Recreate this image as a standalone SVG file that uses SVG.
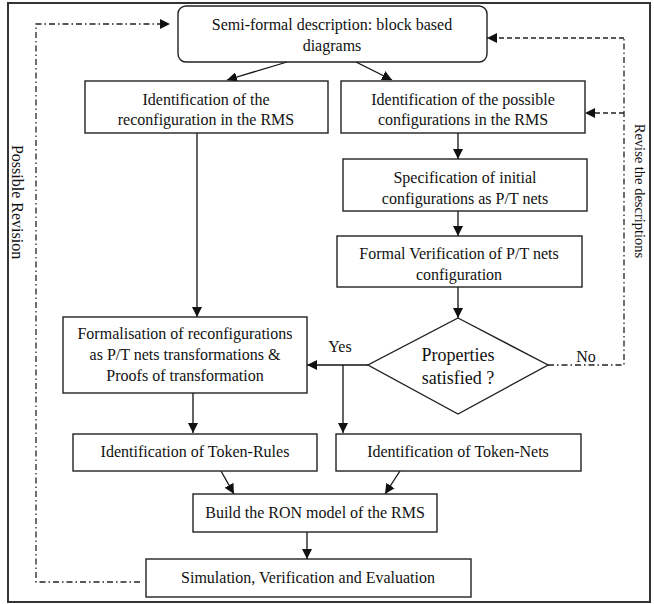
<svg xmlns="http://www.w3.org/2000/svg" width="654" height="604" viewBox="0 0 654 604">
<style>
  .box { fill: #fff; stroke: #222; stroke-width: 1.4; }
  .t { font-family: "Liberation Serif", "Times New Roman", serif; font-size: 16px; fill: #111; text-anchor: middle; }
  .big { font-size: 18px; }
  .side { font-size: 14.5px; }
  .ln { fill: none; stroke: #111; stroke-width: 1.3; }
  .dd { fill: none; stroke: #222; stroke-width: 1.3; stroke-dasharray: 6 3 1.5 3; }
  .da { fill: none; stroke: #222; stroke-width: 1.3; stroke-dasharray: 5 3; }
</style>
<defs>
  <marker id="ah" markerUnits="userSpaceOnUse" markerWidth="10" markerHeight="10" viewBox="0 0 10 10" refX="10" refY="5" orient="auto">
    <path d="M0,0 L10,5 L0,10 Z" fill="#111"/>
  </marker>
</defs>
<rect x="0" y="0" width="654" height="604" fill="#fff"/>
<rect x="8" y="3" width="642" height="599" fill="none" stroke="#333" stroke-width="2"/>

<g id="connectors">
  <line class="ln" x1="287" y1="62" x2="227" y2="80" marker-end="url(#ah)"/>
  <line class="ln" x1="356" y1="62" x2="392" y2="80" marker-end="url(#ah)"/>
  <line class="ln" x1="197" y1="133" x2="197" y2="317" marker-end="url(#ah)"/>
  <line class="ln" x1="458" y1="133" x2="458" y2="159" marker-end="url(#ah)"/>
  <line class="ln" x1="458" y1="211" x2="458" y2="236" marker-end="url(#ah)"/>
  <line class="ln" x1="458" y1="287" x2="458" y2="318" marker-end="url(#ah)"/>
  <line class="ln" x1="368" y1="365" x2="307" y2="365" marker-end="url(#ah)"/>
  <line class="ln" x1="343" y1="365" x2="343" y2="433" marker-end="url(#ah)"/>
  <line class="ln" x1="193" y1="393" x2="193" y2="433" marker-end="url(#ah)"/>
  <line class="ln" x1="221" y1="471" x2="234" y2="494" marker-end="url(#ah)"/>
  <line class="ln" x1="400" y1="471" x2="385" y2="494" marker-end="url(#ah)"/>
  <line class="ln" x1="307" y1="532" x2="307" y2="559" marker-end="url(#ah)"/>
  <polyline class="dd" points="548,365 624,365 624,38"/>
  <line class="da" x1="624" y1="38" x2="487" y2="38" marker-end="url(#ah)"/>
  <line class="da" x1="624" y1="113" x2="585" y2="113" marker-end="url(#ah)"/>
  <polyline class="dd" points="140,582 36,582 36,24 170,24" marker-end="url(#ah)"/>
  <text class="t" x="340" y="352">Yes</text>
  <text class="t" x="586" y="362">No</text>
  <text class="t" transform="translate(12,202) rotate(90)">Possible Revision</text>
  <text class="t side" transform="translate(635,191) rotate(90)">Revise the descriptions</text>
</g>

<g id="n-semiformal">
  <rect class="box" x="178" y="6" width="309" height="56" rx="8"/>
  <text class="t" x="332" y="30">Semi-formal description: block based</text>
  <text class="t" x="332" y="51">diagrams</text>
</g>
<g id="n-ident-reconf">
  <rect class="box" x="85" y="81" width="243" height="52"/>
  <text class="t" x="206" y="105">Identification of the</text>
  <text class="t" x="206" y="125">reconfiguration in the RMS</text>
</g>
<g id="n-ident-config">
  <rect class="box" x="341" y="81" width="244" height="52"/>
  <text class="t" x="463" y="105">Identification of the possible</text>
  <text class="t" x="463" y="125">configurations in the RMS</text>
</g>
<g id="n-spec">
  <rect class="box" x="343" y="159" width="244" height="52"/>
  <text class="t" x="465" y="183">Specification of initial</text>
  <text class="t" x="465" y="204">configurations as P/T nets</text>
</g>
<g id="n-formal-verif">
  <rect class="box" x="337" y="236" width="245" height="51"/>
  <text class="t" x="459" y="259">Formal Verification of P/T nets</text>
  <text class="t" x="459" y="280">configuration</text>
</g>
<g id="n-properties">
  <polygon class="box" points="458,318 548,365 458,414 368,365"/>
  <text class="t big" x="458" y="361">Properties</text>
  <text class="t big" x="458" y="384">satisfied ?</text>
</g>
<g id="n-formalisation">
  <rect class="box" x="63" y="317" width="244" height="76"/>
  <text class="t" x="185" y="339">Formalisation of reconfigurations</text>
  <text class="t" x="185" y="360">as P/T nets transformations &amp;</text>
  <text class="t" x="185" y="381">Proofs of transformation</text>
</g>
<g id="n-token-rules">
  <rect class="box" x="73" y="434" width="244" height="37"/>
  <text class="t" x="195" y="457">Identification of Token-Rules</text>
</g>
<g id="n-token-nets">
  <rect class="box" x="336" y="434" width="245" height="37"/>
  <text class="t" x="458" y="457">Identification of Token-Nets</text>
</g>
<g id="n-build">
  <rect class="box" x="193" y="494" width="244" height="38"/>
  <text class="t" x="315" y="518">Build the RON model of the RMS</text>
</g>
<g id="n-simulation">
  <rect class="box" x="146" y="559" width="325" height="38"/>
  <text class="t" x="308" y="583">Simulation, Verification and Evaluation</text>
</g>
</svg>
